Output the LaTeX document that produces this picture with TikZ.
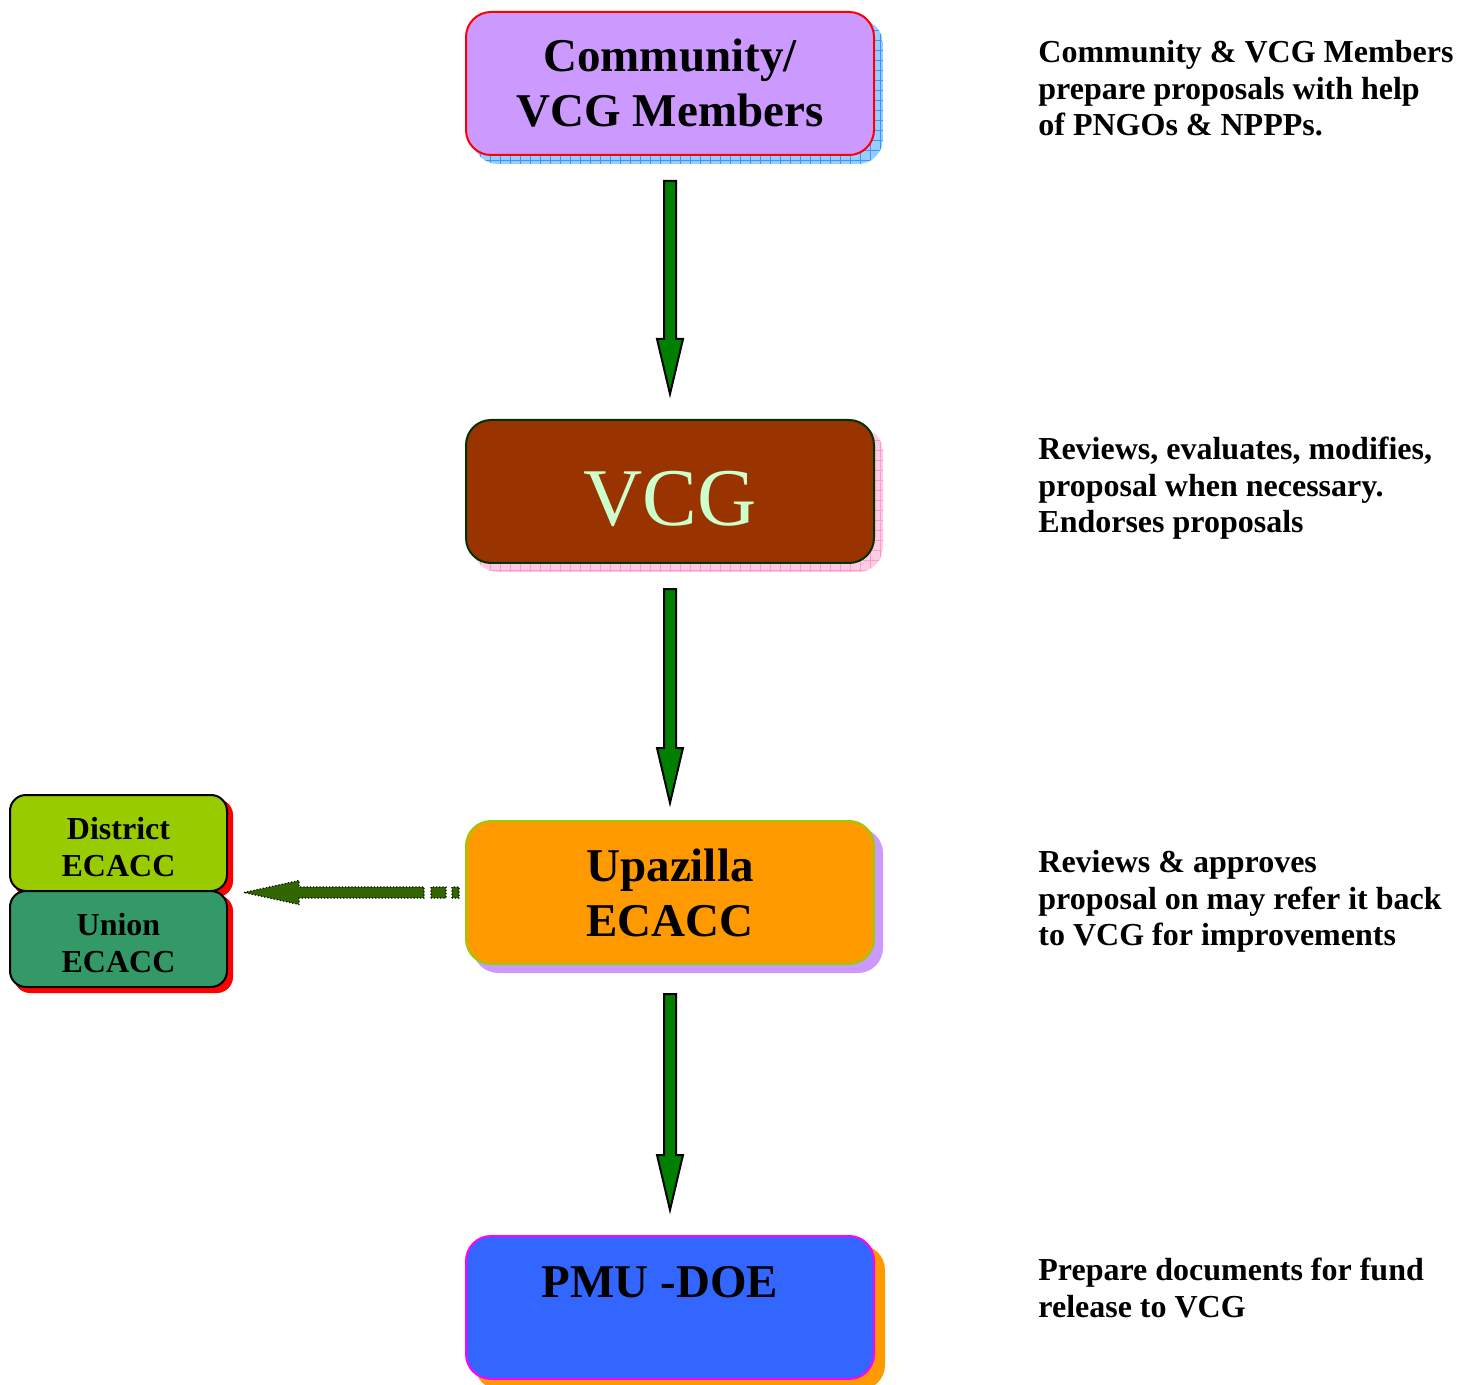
\documentclass[tikz,border=0pt]{standalone}
\usepackage{fontspec}
\setmainfont{Liberation Serif}
\usetikzlibrary{calc,backgrounds}
\definecolor{commfill}{RGB}{204,153,255}
\definecolor{commdraw}{RGB}{255,0,0}
\definecolor{blueshfill}{RGB}{153,204,255}
\definecolor{blueshline}{RGB}{51,153,255}
\definecolor{vcgfill}{RGB}{153,51,0}
\definecolor{vcgdraw}{RGB}{0,51,0}
\definecolor{vcgtext}{RGB}{204,255,204}
\definecolor{pinkshfill}{RGB}{255,204,230}
\definecolor{pinkshline}{RGB}{255,153,204}
\definecolor{upafill}{RGB}{255,153,0}
\definecolor{upadraw}{RGB}{153,204,0}
\definecolor{lavender}{RGB}{204,153,255}
\definecolor{pmufill}{RGB}{51,102,255}
\definecolor{pmudraw}{RGB}{255,0,255}
\definecolor{orangesh}{RGB}{255,153,0}
\definecolor{distfill}{RGB}{153,204,0}
\definecolor{unionfill}{RGB}{51,153,102}
\definecolor{arrgreen}{RGB}{0,128,0}
\definecolor{darrgreen}{RGB}{51,102,0}
\newcommand{\plainshadow}[4]{%
  \fill[#3, rounded corners=#4] ($(#1.north west)+(#2,#2)$) rectangle ($(#1.south east)+(#2,#2)$);}
\newcommand{\gridshadow}[5]{%
  \begin{scope}
    \clip[rounded corners=#5] ($(#1.north west)+(#2,#2)$) rectangle ($(#1.south east)+(#2,#2)$);
    \fill[#3] ($(#1.north west)+(#2,#2)$) rectangle ($(#1.south east)+(#2,#2)$);
    \draw[#4, line width=0.4pt, step=5pt] ($(#1.north west)+(#2,#2)$) grid ($(#1.south east)+(#2,#2)$);
  \end{scope}}
% #1 from node, #2 to node, #3 start gap, #4 end gap (px)
\newcommand{\blockarr}[4]{%
  \draw[barrow] let \p1=($(#1.south)+(0,#3)$), \p2=($(#2.north)+(0,-#4)$) in
    (\x1-3pt,\y1) -- (\x1+3pt,\y1) -- (\x1+3pt,\y2+27.5pt) -- (\x1+6.5pt,\y2+27.5pt)
    -- (\x1,\y2) -- (\x1-6.5pt,\y2+27.5pt) -- (\x1-3pt,\y2+27.5pt) -- cycle;}
\begin{document}
\begin{tikzpicture}[x=0.5pt,y=-0.5pt,
  box/.style={rectangle, rounded corners=12.5pt, minimum width=204pt, minimum height=71.5pt,
    line width=1pt, inner sep=0pt, align=center,
    font=\fontsize{23.5}{27.5}\selectfont\bfseries},
  smallbox/.style={rectangle, rounded corners=8pt, minimum width=108.5pt, minimum height=48pt,
    line width=1pt, draw=black, inner sep=0pt, align=center, text height=33.5pt, text depth=0pt,
    font=\fontsize{16}{18.5}\selectfont\bfseries},
  desc/.style={anchor=north west, inner sep=0pt, align=left,
    font=\fontsize{16}{18.25}\selectfont\bfseries},
  barrow/.style={fill=arrgreen, draw=black, line width=1pt, line join=miter},
  larrow/.style={fill=darrgreen, draw=black, densely dotted, line width=0.6pt}]
\useasboundingbox (0,0) rectangle (1457,1385);

\node[box, fill=commfill, draw=commdraw] (comm) at (670,83.5) {Community/\\VCG Members};
\node[box, fill=vcgfill, draw=vcgdraw, text=vcgtext, text height=33.5pt, text depth=0pt,
  font=\fontsize{41}{45}\selectfont] (vcg) at (670,491.5) {VCG};
\node[box, fill=upafill, draw=upadraw] (upa) at (670,892.5) {Upazilla\\ECACC};
\node[box, fill=pmufill, draw=pmudraw] (pmu) at (670,1307.5) {};
\node[anchor=base, font=\fontsize{23.5}{27.5}\selectfont\bfseries] (pmut) at (660,1297) {PMU -DOE};

\node[smallbox, fill=distfill] (dist) at (118.5,843) {District\\ECACC};
\node[smallbox, fill=unionfill] (union) at (118.5,939) {Union\\ECACC};

\begin{pgfonlayer}{background}
  \gridshadow{comm}{8}{blueshfill}{blueshline}{12.5pt}
  \gridshadow{vcg}{8}{pinkshfill}{pinkshline}{12.5pt}
  \plainshadow{upa}{8}{lavender}{12.5pt}
  \plainshadow{pmu}{10}{orangesh}{12.5pt}
  \plainshadow{dist}{5}{red}{8pt}
  \plainshadow{union}{5}{red}{8pt}
\end{pgfonlayer}

\blockarr{comm}{vcg}{25}{25}
\blockarr{vcg}{upa}{25}{17}
\blockarr{upa}{pmu}{29}{25}

\draw[larrow] let \p1=($(upa.west)+(-6,0)$), \p2=($(dist.south east)+(16,0)$) in
  (\x2,\y1) -- (\x2+27.5pt,\y1+6pt) -- (\x2+27.5pt,\y1+2.75pt) -- (\x1-17.5pt,\y1+2.75pt)
  -- (\x1-17.5pt,\y1-2.75pt) -- (\x2+27.5pt,\y1-2.75pt) -- (\x2+27.5pt,\y1-6pt) -- cycle
  (\x1-14pt,\y1-2.75pt) rectangle (\x1-6.5pt,\y1+2.75pt)
  (\x1-3.5pt,\y1-2.75pt) rectangle (\x1,\y1+2.75pt);

\node[desc] (d1) at (1038,40) {Community \& VCG Members\\prepare proposals with help\\of PNGOs \& NPPPs.};
\node[desc] (d2) at (1038,437) {Reviews, evaluates, modifies,\\proposal when necessary.\\Endorses proposals};
\node[desc] (d3) at (1038,850) {Reviews \& approves\\proposal on may refer it back\\to VCG for improvements};
\node[desc] (d4) at (1038,1258) {Prepare documents for fund\\release to VCG};
\end{tikzpicture}
\end{document}
